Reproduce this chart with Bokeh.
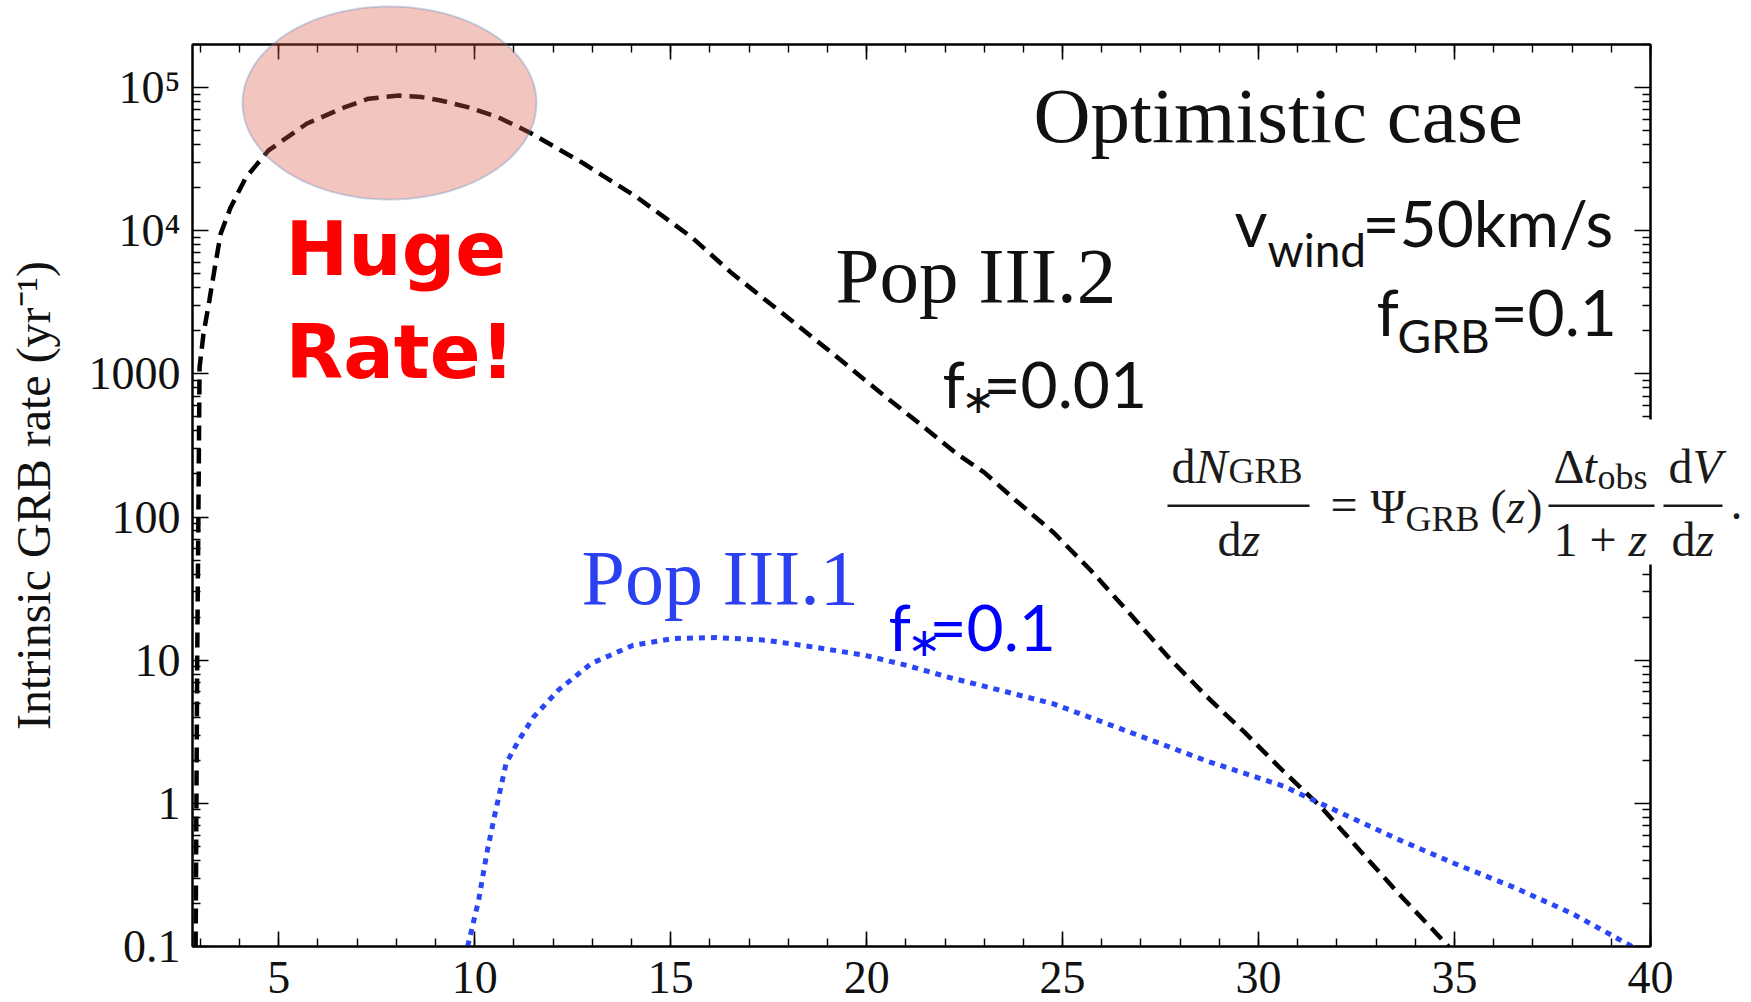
import math
import numpy as np
from bokeh.plotting import figure
from bokeh.models import (Range1d, LinearAxis, LogAxis, FixedTicker, Label,
                          PolyAnnotation, CustomJSTickFormatter, GridBox)
from bokeh.embed import file_html
from bokeh.resources import INLINE

# ---------------- data ----------------
z_pop32 = [2.88, 2.90, 2.92, 2.95, 2.98, 3.08, 3.23, 3.37, 3.52, 3.77, 4.16, 4.74,
           5.72, 6.69, 7.29, 8.07, 8.65, 9.13, 9.82, 10.6, 11.4, 12.78, 14.16, 15.54,
           16.58, 17.86, 19.13, 20.38, 21.25, 22.3, 23.0, 23.8, 24.77, 25.74, 26.73,
           27.7, 28.67, 29.64, 30.64, 31.6, 32.58, 33.57, 34.85]
rate_pop32 = [0.1, 1, 10, 100, 1110, 1900, 3250, 5550, 9550, 14500, 23500, 36400,
              56100, 73000, 83600, 88000, 85800, 81300, 73000, 62100, 48600, 29500, 17000, 8980,
              5000, 2640, 1390, 730, 473, 277, 205, 131, 78, 41.8, 20.9,
              10.5, 5.6, 3.14, 1.67, 0.94, 0.47, 0.235, 0.1]

z_pop31 = [9.82, 10.1, 10.31, 10.5, 10.8, 11.14, 11.5, 12.14, 12.98, 14.04, 15.1,
           16.16, 17.42, 18.7, 19.97, 21.02, 22.09, 23.37, 24.77, 26.72, 28.67, 30.63,
           31.61, 33.56, 35.0, 36.5, 38.0, 39.53]
rate_pop31 = [0.1, 0.21, 0.45, 0.80, 1.9, 2.8, 4.0, 6.2, 9.5, 12.7, 14.2,
              14.4, 13.8, 12.3, 10.8, 9.2, 7.6, 6.2, 4.95, 3.14, 1.98, 1.32,
              0.99, 0.56, 0.38, 0.26, 0.17, 0.1]

x_major_ticks = [5, 10, 15, 20, 25, 30, 35, 40]
x_minor_ticks = list(range(3, 41))
y_major_ticks = [0.1, 1, 10, 100, 1000, 10000, 100000]
y_tick_labels = ["0.1", "1", "10", "100", "1000", "10\u2074", "10\u2075"]
y_minor_ticks = [m * 10.0 ** e for e in range(-1, 6) for m in range(2, 10)]

XMIN, XMAX = 2.8, 40
YMIN, YMAX = 0.1, 2e5

W, H = 1751, 1002
FL, FR, FT, FB = 192, 1650, 44, 946
SERIF = "Liberation Serif"
SANS = "Lato"

# ---------------- main figure ----------------
p = figure(width=W, height=H, x_range=Range1d(XMIN, XMAX), y_range=Range1d(YMIN, YMAX),
           y_axis_type="log", output_backend="svg", toolbar_location=None,
           min_border_left=FL, min_border_right=W - FR, min_border_top=FT,
           min_border_bottom=H - FB)
p.frame_align = False
p.background_fill_color = "white"
p.border_fill_color = "white"
p.outline_line_color = "black"
p.outline_line_width = 2
p.xgrid.visible = False
p.ygrid.visible = False


def style_axis(ax, major_len, minor_len):
    ax.axis_line_color = "black"
    ax.axis_line_width = 2
    ax.major_tick_in = major_len
    ax.major_tick_out = 0
    ax.minor_tick_in = minor_len
    ax.minor_tick_out = 0
    ax.major_tick_line_color = "black"
    ax.minor_tick_line_color = "black"
    ax.major_tick_line_width = 1.6
    ax.minor_tick_line_width = 1.4
    ax.major_label_text_font = SERIF
    ax.major_label_text_color = "#111111"


xb = p.xaxis[0]
xb.ticker = FixedTicker(ticks=x_major_ticks, minor_ticks=x_minor_ticks)
style_axis(xb, 15, 8)
xb.major_label_text_font_size = "46px"
xb.major_label_standoff = 15

yl = p.yaxis[0]
yl.ticker = FixedTicker(ticks=y_major_ticks, minor_ticks=y_minor_ticks)
style_axis(yl, 16, 8)
yl.major_label_text_font_size = "46px"
yl.major_label_standoff = 12
yl.major_label_overrides = {float(t): s for t, s in zip(y_major_ticks, y_tick_labels)}
yl.axis_label = "Intrinsic GRB rate (yr\u207b\u00b9)"
yl.axis_label_text_font = SERIF
yl.axis_label_text_font_style = "normal"
yl.axis_label_text_font_size = "48px"
yl.axis_label_text_color = "#111111"
yl.axis_label_standoff = 26

blank = "return ''"
xt = LinearAxis(ticker=FixedTicker(ticks=x_major_ticks, minor_ticks=x_minor_ticks),
                formatter=CustomJSTickFormatter(code=blank))
style_axis(xt, 15, 8)
xt.major_label_text_font_size = "1px"
xt.major_label_standoff = 0
p.add_layout(xt, "above")

yr = LogAxis(ticker=FixedTicker(ticks=y_major_ticks, minor_ticks=y_minor_ticks),
             formatter=CustomJSTickFormatter(code=blank))
style_axis(yr, 16, 8)
yr.major_label_text_font_size = "1px"
yr.major_label_standoff = 0
p.add_layout(yr, "right")

# ---------------- curves ----------------
p.line(z_pop32, rate_pop32, line_color="black", line_width=4.5, line_dash="15 8")
p.line(z_pop31, rate_pop31, line_color="#2a46f5", line_width=5, line_dash="6 6")

# ---------------- transparent overlay in page pixels (for marks that leave the frame) ----------------
ov = figure(width=W, height=H, x_range=Range1d(0, W), y_range=Range1d(H, 0),
            output_backend="svg", toolbar_location=None, title=None,
            x_axis_location=None, y_axis_location=None, min_border=0)
ov.frame_align = False
ov.background_fill_alpha = 0
ov.border_fill_alpha = 0
ov.outline_line_color = None
ov.grid.visible = False

# measured shift of Bokeh's alphabetic baseline, as a fraction of the font size
K = {SERIF: 0.33, SANS: 0.37, "DejaVu Sans": 0.38}


def label(txt, px, py, size, color="#111111", font=SERIF, style="normal"):
    ov.add_layout(Label(x=px, y=py - K[font] * size, text=txt, text_font=font,
                        text_font_size=f"{size}px", text_font_style=style,
                        text_color=color, text_baseline="alphabetic", text_align="left"))


def rect(x0, y0, x1, y1, color):
    ov.add_layout(PolyAnnotation(xs=[x0, x1, x1, x0], ys=[y0, y0, y1, y1],
                                 fill_color=color, fill_alpha=1.0, line_color=None))


# highlight ellipse
t = np.linspace(0, 2 * np.pi, 160)
ov.add_layout(PolyAnnotation(xs=[389 + 147 * math.cos(a) for a in t],
                             ys=[102.5 + 96.5 * math.sin(a) for a in t],
                             fill_color="#dc5a48", fill_alpha=0.35,
                             line_color="#4f81bd", line_width=2))

# white patch behind the equation (hides the right axis there)
rect(1150, 419, W, 564, "white")

# ---------------- texts ----------------
label("Optimistic case", 1033, 141, 79)
label("Pop III.2", 835, 301, 79)
label("Pop III.1", 581, 603, 78, color="#2b40f0")

label("Huge", 285, 277, 75, color="#ff0000", font="DejaVu Sans", style="bold")
label("Rate!", 285, 380, 75, color="#ff0000", font="DejaVu Sans", style="bold")

# f* = 0.01
label("f", 942, 407, 64, font=SANS)
label("\u2217", 961, 414, 40, font="DejaVu Sans")
label("=0.01", 983, 407, 64, font=SANS)
# f* = 0.1 (blue)
label("f", 888, 650, 64, color="#0000ff", font=SANS)
label("\u2217", 907, 657, 40, color="#0000ff", font="DejaVu Sans")
label("=0.1", 929, 650, 64, color="#0000ff", font=SANS)
# v_wind, f_GRB
label("v", 1234, 246, 64, font=SANS)
label("wind", 1267, 266, 46, font=SANS)
label("=50km/s", 1362, 246, 64, font=SANS)
label("f", 1376, 335, 64, font=SANS)
label("GRB", 1397, 352, 46, font=SANS)
label("=0.1", 1490, 335, 64, font=SANS)

# equation dN/dz = Psi(z) dt/(1+z) dV/dz.
EQ = "#1a1a1a"
label("d", 1171, 482, 48, EQ)
label("N", 1195, 482, 48, EQ, style="italic")
label("GRB", 1228, 482, 36, EQ)
rect(1167, 504, 1309, 506.5, EQ)
label("d", 1217, 555, 48, EQ)
label("z", 1241, 555, 48, EQ, style="italic")

label("=", 1330, 520, 48, EQ)
label("\u03a8", 1370, 522, 48, EQ)
label("GRB", 1405, 530, 36, EQ)
label("(", 1490, 522, 48, EQ)
label("z", 1506, 522, 48, EQ, style="italic")
label(")", 1526, 522, 48, EQ)

label("\u0394", 1553, 482, 48, EQ)
label("t", 1583, 482, 48, EQ, style="italic")
label("obs", 1597, 488, 36, EQ)
rect(1548, 504, 1654, 506.5, EQ)
label("1 + ", 1553, 555, 48, EQ)
label("z", 1628, 555, 48, EQ, style="italic")

label("d", 1668, 482, 48, EQ)
label("V", 1692, 482, 48, EQ, style="italic")
rect(1663, 504, 1722, 506.5, EQ)
label("d", 1671, 555, 48, EQ)
label("z", 1695, 555, 48, EQ, style="italic")
label(".", 1730, 518, 48, EQ)

layout = GridBox(children=[(p, 0, 0), (ov, 0, 0)])
open("out.html", "w").write(file_html(layout, INLINE))
